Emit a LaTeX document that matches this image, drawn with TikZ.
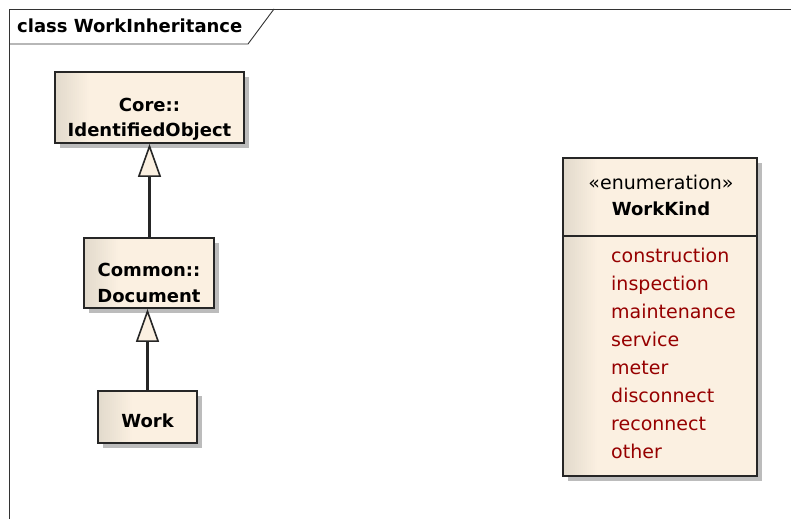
\documentclass[tikz,border=0pt]{standalone}
\usepackage{fontspec}
\setmainfont{DejaVu Sans}
\usetikzlibrary{arrows.meta,shadows}
\definecolor{cream}{RGB}{251,240,225}
\definecolor{creamdark}{RGB}{226,218,204}
\definecolor{shadowgray}{RGB}{188,188,188}
\definecolor{litred}{RGB}{150,0,0}
\tikzset{
  umlbox/.style={draw=black!85, line width=1.8pt, fill=cream, inner sep=0pt,
    drop shadow={shadow xshift=5pt, shadow yshift=-5pt, fill=shadowgray, opacity=1},
    path picture={
      \foreach \k in {0,...,17}{
        \pgfmathsetmacro{\mix}{100*\k/17}
        \fill[cream!\mix!creamdark]
          ([xshift={2*\k*1pt}]path picture bounding box.south west) rectangle
          ([xshift={(2*\k+2.3)*1pt}]path picture bounding box.north west);
      }}},
  boxtext/.style={anchor=base, inner sep=0pt, font=\fontsize{18}{20}\selectfont\bfseries},
  plaintext/.style={anchor=base, inner sep=0pt, font=\fontsize{19}{20}\selectfont},
  lit/.style={anchor=base west, inner sep=0pt, text=litred, font=\fontsize{19}{20}\selectfont},
  gen/.style={line width=2.2pt, draw=black!85, -{Triangle[length=33pt,width=23pt,fill=cream,line width=1.6pt]}},
}
\begin{document}
\begin{tikzpicture}[x=1pt,y=-1pt]
\useasboundingbox (0,0) rectangle (791,519);
\fill[white] (0,0) rectangle (791,519);
% frame
\draw[line width=0.9pt, black!80] (9,519) -- (9,9) -- (791,9);
\draw[line width=0.9pt, black!80] (9,44) -- (248,44) -- (274,9);
\node[anchor=base west, inner sep=0pt, font=\fontsize{18}{20}\selectfont\bfseries] (title) at (17,33) {class WorkInheritance};
% classes
\node[umlbox, minimum width=189pt, minimum height=71pt] (core) at (149.5,107.5) {};
\node[boxtext] (coreA) at (149.5,111) {Core::};
\node[boxtext] (coreB) at (149.5,136) {IdentifiedObject};
\node[umlbox, minimum width=130pt, minimum height=70pt] (doc) at (149,273) {};
\node[boxtext] (docA) at (149,276) {Common::};
\node[boxtext] (docB) at (149,302) {Document};
\node[umlbox, minimum width=99pt, minimum height=52pt] (work) at (147.5,417) {};
\node[boxtext] (workA) at (147.5,427) {Work};
\draw[gen] (doc.north -| core.south) -- (core.south);
\draw[gen] (work.north) -- (work.north |- doc.south);
% enumeration
\node[umlbox, minimum width=194pt, minimum height=318pt] (enum) at (660,317) {};
\draw[line width=1.3pt, black!85] (enum.west |- 0,236) -- (enum.east |- 0,236);
\node[plaintext] (stereo) at (661,189) {«enumeration»};
\node[boxtext] (ename) at (661,215) {WorkKind};
\node[lit] (l1) at (611,262) {construction};
\node[lit] (l2) at (611,290) {inspection};
\node[lit] (l3) at (611,318) {maintenance};
\node[lit] (l4) at (611,346) {service};
\node[lit] (l5) at (611,374) {meter};
\node[lit] (l6) at (611,402) {disconnect};
\node[lit] (l7) at (611,430) {reconnect};
\node[lit] (l8) at (611,458) {other};
\end{tikzpicture}
\end{document}
